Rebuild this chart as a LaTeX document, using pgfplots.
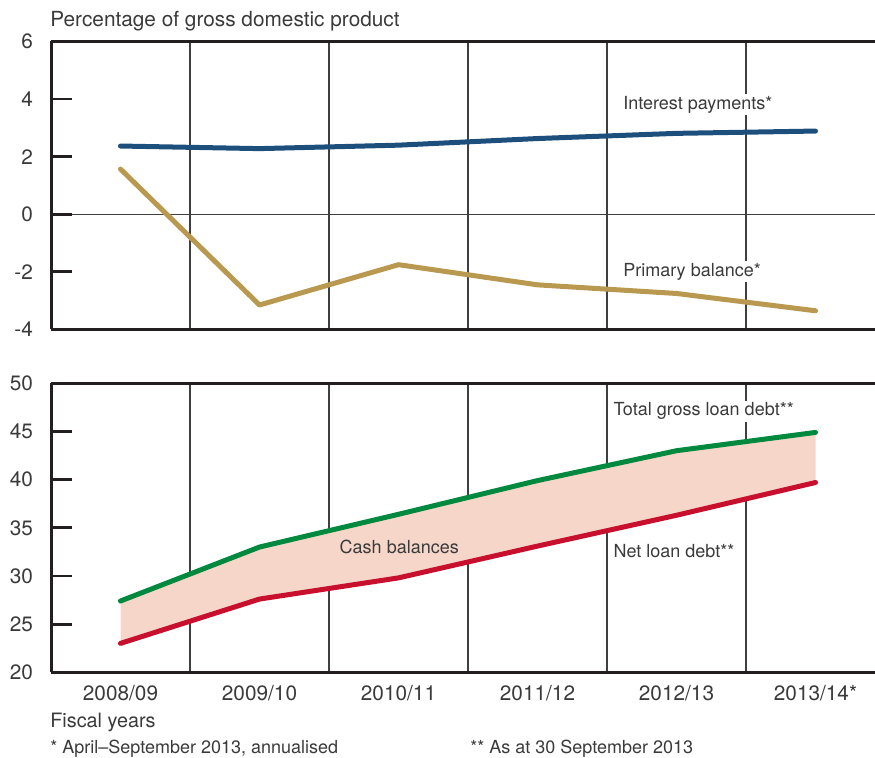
\documentclass[border=0pt]{standalone}
\usepackage{fontspec}
\setmainfont{TeX Gyre Heros}
\usepackage{pgfplots}
\usepackage{pgfplotstable}
\pgfplotsset{compat=1.18}
\usepgfplotslibrary{fillbetween}

\definecolor{ipblue}{HTML}{1D4F7C}
\definecolor{pbgold}{HTML}{B9994F}
\definecolor{grgreen}{HTML}{00893F}
\definecolor{nlred}{HTML}{C8102E}
\definecolor{cashfill}{HTML}{F6D6C9}
\definecolor{framec}{HTML}{231F20}
\definecolor{gridc}{HTML}{3F3F3F}
\definecolor{txt}{HTML}{3A3A3A}

\pgfplotstableread{
x ip pb
0 2.37 1.57
1 2.28 -3.15
2 2.40 -1.75
3 2.63 -2.45
4 2.81 -2.75
5 2.89 -3.35
}\toppanel

\pgfplotstableread{
x gross net
0 27.4 23.0
1 33.0 27.6
2 36.4 29.8
3 39.9 33.1
4 43.0 36.3
5 44.9 39.7
}\botpanel

\tikzset{
  ser/.style={line width=2.5pt, line cap=round, line join=round},
  lab/.style={font=\fontsize{10.4}{12}\selectfont, text=txt, inner sep=1pt},
  slab/.style={font=\fontsize{9}{11}\selectfont, text=txt, inner sep=1pt},
}

\pgfplotsset{
  panel/.style={
    scale only axis, width=412pt,
    xmin=-0.5, xmax=5.428,
    axis x line*=box, axis y line*=left,
    axis line style={framec, line width=1.5pt},
    xtick={0,...,5},
    minor xtick={0.5,1.5,2.5,3.5,4.5},
    x tick style={draw=none},
    xminorgrids=true,
    minor grid style={gridc, line width=0.6pt},
    y tick style={framec, line width=1.4pt},
    tick align=inside,
    major tick length=10.5pt,
    yticklabel style={anchor=east, xshift=-5.5pt, text=txt},
    xticklabel style={anchor=base, yshift=-14.2pt, text=txt},
    tick label style={font=\fontsize{10.4}{12}\selectfont},
    set layers,
  },
}

\begin{document}
\begin{tikzpicture}
\begin{axis}[panel,
  at={(25.5pt,214.25pt)}, anchor=south west,
  height=144pt, ymin=-4, ymax=6,
  ytick={-4,-2,0,2,4,6},
  yticklabels={-4,-2,0,2,4,6},
  xticklabels={},
  extra y ticks={0}, extra y tick labels={},
  extra y tick style={ymajorgrids=true, major grid style={gridc, line width=0.6pt}},
]
\addplot[ser, ipblue] table[x=x, y=ip] {\toppanel};
\addplot[ser, pbgold] table[x=x, y=pb] {\toppanel};
\node[slab, anchor=west, fill=white] at (axis cs:3.6,3.8) {Interest payments*};
\node[slab, anchor=west, fill=white] at (axis cs:3.6,-1.99) {Primary balance*};
\end{axis}

\begin{axis}[panel,
  at={(25.5pt,42.85pt)}, anchor=south west,
  height=144.5pt, ymin=20, ymax=50,
  ytick={20,25,...,50},
  yticklabels={20,25,30,35,40,45,50},
  xticklabels={2008/09,2009/10,2010/11,2011/12,2012/13,2013/14*},
]
\addplot[ser, grgreen, name path=gross] table[x=x, y=gross] {\botpanel};
\addplot[ser, nlred, name path=net] table[x=x, y=net] {\botpanel};
\addplot[fill=cashfill, draw=none, on layer=axis background] fill between[of=gross and net];
\node[slab, anchor=west, fill=white] at (axis cs:3.53,47.1) {Total gross loan debt**};
\node[slab, anchor=west] at (axis cs:3.53,32.6) {Net loan debt**};
\node[slab, anchor=west] at (axis cs:1.56,33.0) {Cash balances};
\end{axis}

\node[lab, anchor=base west, inner sep=0pt] at (25pt,365.5pt) {Percentage of gross domestic product};
\node[lab, anchor=base west, inner sep=0pt, font=\fontsize{9.9}{12}\selectfont] at (25pt,15.15pt) {Fiscal years};
\node[slab, anchor=base west, inner sep=0pt] at (25pt,2.2pt) {* April--September 2013, annualised};
\node[slab, anchor=base west, inner sep=0pt] at (235pt,2.2pt) {** As at 30 September 2013};

\pgfresetboundingbox
\path[use as bounding box] (0,0) rectangle (437.5pt,379pt);
\end{tikzpicture}
\end{document}
